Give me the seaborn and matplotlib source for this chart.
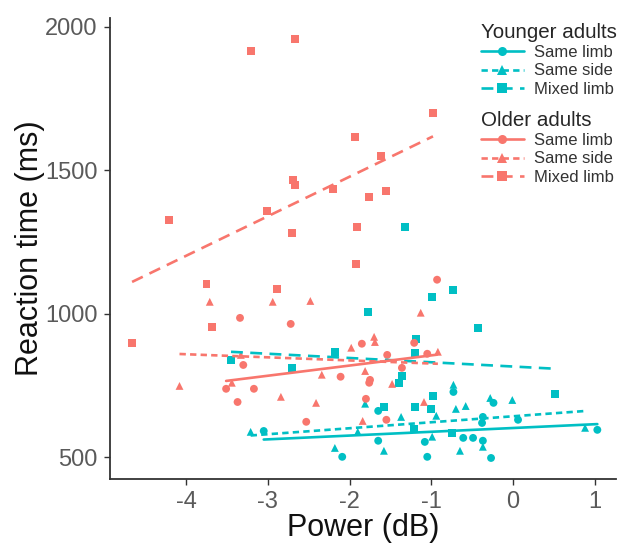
import matplotlib.pyplot as plt
import seaborn as sns
import pandas as pd
from matplotlib.lines import Line2D

# values
young_same_limb_power = [-3.05, -2.09, -1.65, -1.65, -1.08, -1.05, -0.73, -0.61, -0.49, -0.24,
                         -0.37, -0.38, -0.37, -0.27, 0.06, 1.03]
young_same_limb_rt = [592, 502, 662, 558, 554, 502, 728, 568, 568, 690, 641, 620, 558, 498, 631, 596]

young_same_side_power = [-3.21, -1.81, -2.18, -1.58, -1.37, -0.94, -0.73, -0.70, -0.58, -0.65,
                         -0.99, -0.28, -0.01, -0.37, 0.88, -1.90]
young_same_side_rt = [589, 687, 533, 523, 641, 645, 753, 669, 679, 523, 572, 707, 700, 537, 603, 589]

young_mixed_limb_power = [-1.32, -3.45, -2.70, -2.18, -1.77, -0.99, -0.73, -0.43, -1.19, -1.20,
                          -1.36, -1.40, -0.98, -1.58, -1.20, -1.00, -1.21, -0.75, 0.51]
young_mixed_limb_rt = [1303, 840, 812, 868, 1007, 1059, 1084, 951, 913, 864, 784, 760, 714, 676,
                       676, 669, 599, 585, 721]

old_same_limb_power = [-3.34, -2.72, -3.30, -3.51, -3.17, -3.37, -2.53, -0.93, -1.85, -1.21,
                       -1.54, -1.05, -2.11, -1.36, -1.75, -1.76, -1.80, -1.55]
old_same_limb_rt = [986, 965, 822, 739, 739, 693, 624, 1119, 896, 899, 857, 861, 781, 812, 770,
                    760, 704, 631]

old_same_side_power = [-3.71, -2.94, -2.48, -3.33, -4.08, -3.44, -2.84, -2.41, -2.34, -1.98,
                       -1.70, -1.69, -1.13, -1.81, -1.48, -1.84, -1.09, -0.92]
old_same_side_rt = [1042, 1042, 1045, 857, 749, 760, 711, 690, 788, 882, 920, 902, 1004, 801, 756,
                    627, 693, 868]

old_mixed_limb_power = [-3.21, -2.67, -4.21, -2.69, -2.67, -3.01, -2.70, -0.98, -1.93, -1.62,
                        -2.20, -1.76, -1.55, -1.91, -3.75, -2.89, -3.68, -4.66, -1.92]
old_mixed_limb_rt = [1916, 1958, 1328, 1467, 1450, 1359, 1282, 1700, 1617, 1551, 1436, 1408, 1429,
                     1303, 1105, 1087, 955, 899, 1174]

ages = ["Younger adults", "Older adults"]
conditions = ["Same limb", "Same side", "Mixed limb"]
x_ticks = [-4, -3, -2, -1, 0, 1]
y_ticks = [500, 1000, 1500, 2000]

groups = [
    ("Younger adults", "Same limb", young_same_limb_power, young_same_limb_rt),
    ("Younger adults", "Same side", young_same_side_power, young_same_side_rt),
    ("Younger adults", "Mixed limb", young_mixed_limb_power, young_mixed_limb_rt),
    ("Older adults", "Same limb", old_same_limb_power, old_same_limb_rt),
    ("Older adults", "Same side", old_same_side_power, old_same_side_rt),
    ("Older adults", "Mixed limb", old_mixed_limb_power, old_mixed_limb_rt),
]
df = pd.concat([pd.DataFrame({"power": p, "rt": r, "age": a, "condition": c})
                for a, c, p, r in groups], ignore_index=True)

colors = {"Younger adults": "#00BFC4", "Older adults": "#F8766D"}
markers = {"Same limb": "o", "Same side": "^", "Mixed limb": "s"}
styles = {"Same limb": "-", "Same side": (0, (2.4, 1.6)), "Mixed limb": (0, (4.5, 2.8))}

sns.set_style("white")
plt.rcParams["font.family"] = ["Liberation Sans", "DejaVu Sans"]

fig = plt.figure(figsize=(6.18, 5.43), dpi=100)
ax = fig.add_axes([0.178, 0.118, 0.819, 0.849])

sns.scatterplot(data=df, x="power", y="rt", hue="age", style="condition",
                palette=colors, markers=markers, s=32, linewidth=0, legend=False, ax=ax)

for a, c, p, r in groups:
    sub = df[(df.age == a) & (df.condition == c)]
    sns.regplot(data=sub, x="power", y="rt", scatter=False, ci=None, truncate=True,
                color=colors[a], line_kws=dict(lw=1.9, linestyle=styles[c], zorder=5), ax=ax)

ax.set_xlim(-4.93, 1.26)
ax.set_ylim(425, 2031)
ax.set_xticks(x_ticks)
ax.set_xticklabels([str(t) for t in x_ticks])
ax.set_yticks(y_ticks)
ax.set_xlabel("Power (dB)", fontsize=22, color="#111111", labelpad=0)
ax.set_ylabel("Reaction time (ms)", fontsize=22, color="#111111", labelpad=0)
ax.tick_params(labelsize=17, labelcolor="#5a5a5a", color="#333333", length=4, width=1,
               direction="out", left=True, bottom=True, pad=5)
sns.despine(ax=ax)
for s in ["left", "bottom"]:
    ax.spines[s].set_color("#333333")
    ax.spines[s].set_linewidth(1.3)


def make_legend(title, color, anchor):
    handles = [Line2D([], [], color=color, lw=1.9, linestyle=styles[c], marker=markers[c],
                      markersize=6.5, markeredgewidth=0) for c in conditions]
    return ax.legend(handles, conditions, title=title, loc="upper left", bbox_to_anchor=anchor,
                     bbox_transform=fig.transFigure, frameon=False, fontsize=12,
                     title_fontsize=14.8, alignment="left", handlelength=2.6,
                     handletextpad=0.6, labelspacing=0.2, borderaxespad=0, borderpad=0,
                     labelcolor="#333333")


leg1 = make_legend("Younger adults", colors["Younger adults"], (0.778, 0.958))
ax.add_artist(leg1)
make_legend("Older adults", colors["Older adults"], (0.778, 0.796))

fig.savefig("out.png", dpi=100)
